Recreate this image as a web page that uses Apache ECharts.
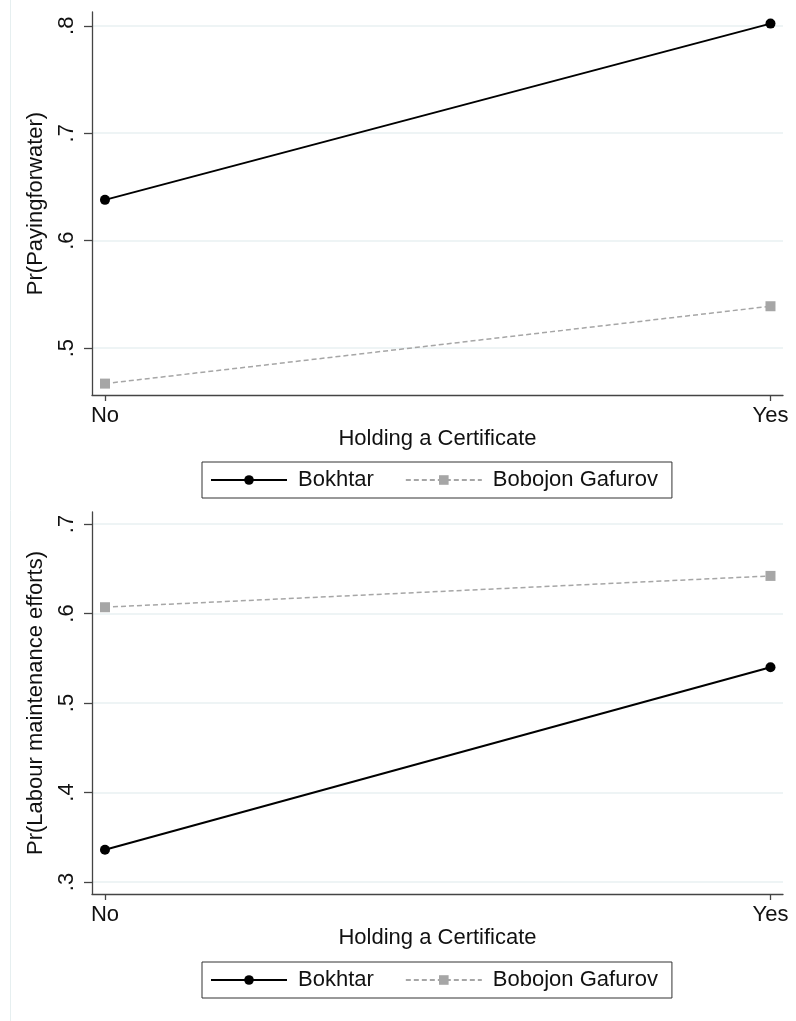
<!DOCTYPE html>
<html>
<head>
<meta charset="utf-8">
<style>
  html, body { margin: 0; padding: 0; background: #ffffff; }
  #chart { width: 796px; height: 1021px; }
</style>
<script src="https://cdn.jsdelivr.net/npm/echarts@6/dist/echarts.min.js"></script>
</head>
<body>
<div id="chart"></div>
<script>
// Predicted probabilities by certificate status, two districts
const categories = ['No', 'Yes'];
const seriesNames = ['Bokhtar', 'Bobojon Gafurov'];
const bokhtarPaying = [0.638, 0.802];
const gafurovPaying = [0.467, 0.539];
const bokhtarLabour = [0.336, 0.540];
const gafurovLabour = [0.607, 0.642];
const payingTicks = [0.5, 0.6, 0.7, 0.8];
const labourTicks = [0.3, 0.4, 0.5, 0.6, 0.7];
const xTitle = 'Holding a Certificate';
const payingTitle = 'Pr(Payingforwater)';
const labourTitle = 'Pr(Labour maintenance efforts)';

const FONT = "'Liberation Sans', Arial, sans-serif";
const TXT = '#111111';
const AXIS = '#444444';
const GRIDLINE = '#e8f0f2';

const toPoints = vals => categories.map((c, i) => [i, vals[i]]);
const fmtTick = v => v.toFixed(1).replace(/^0/, '');

function xAxisFor(gridIndex) {
  return {
    type: 'value', gridIndex: gridIndex,
    min: -0.0195, max: 1.0188,
    name: xTitle, nameLocation: 'middle', nameGap: 31,
    nameTextStyle: { fontFamily: FONT, fontSize: 22, color: TXT },
    axisLine: { show: true, onZero: false, lineStyle: { color: AXIS, width: 1.3 } },
    axisTick: { show: true, length: 6, customValues: [0, 1], lineStyle: { color: AXIS, width: 1.3 } },
    axisLabel: { customValues: [0, 1], margin: 10, fontFamily: FONT, fontSize: 22, color: TXT,
                 formatter: v => categories[Math.round(v)] },
    splitLine: { show: false }
  };
}

function yAxisFor(gridIndex, min, max, ticks, title) {
  return {
    type: 'value', gridIndex: gridIndex, min: min, max: max,
    name: title, nameLocation: 'middle', nameRotate: 90, nameGap: 45,
    nameTextStyle: { fontFamily: FONT, fontSize: 22, color: TXT },
    axisLine: { show: true, onZero: false, lineStyle: { color: AXIS, width: 1.3 } },
    axisTick: { show: true, length: 8, customValues: ticks, lineStyle: { color: AXIS, width: 1.3 } },
    axisLabel: { customValues: ticks, rotate: 90, margin: 14, fontFamily: FONT, fontSize: 22, color: TXT,
                 formatter: fmtTick },
    splitLine: { show: true, lineStyle: { color: GRIDLINE, width: 1.5 } }
  };
}

function solidSeries(xi, vals) {
  return {
    name: seriesNames[0], type: 'line', xAxisIndex: xi, yAxisIndex: xi,
    data: toPoints(vals), symbol: 'circle', symbolSize: 10,
    itemStyle: { color: '#000000' },
    lineStyle: { color: '#000000', width: 2 },
    emphasis: { disabled: true }, animation: false, z: 3
  };
}

function dashedSeries(xi, vals) {
  return {
    name: seriesNames[1], type: 'line', xAxisIndex: xi, yAxisIndex: xi,
    data: toPoints(vals), symbol: 'rect', symbolSize: 10,
    itemStyle: { color: '#a6a6a6' },
    lineStyle: { color: '#a6a6a6', width: 1.5, type: [5, 3] },
    emphasis: { disabled: true }, animation: false, z: 2
  };
}

function legendAt(top) {
  return {
    left: 202, top: top, orient: 'horizontal',
    data: seriesNames,
    itemWidth: 76, itemHeight: 12, itemGap: 31,
    padding: [7, 14, 7, 8],
    borderColor: '#333333', borderWidth: 1, borderRadius: 0,
    backgroundColor: '#ffffff',
    textStyle: { fontFamily: FONT, fontSize: 22, color: TXT, padding: [0, 0, 0, 6] },
    selectedMode: false
  };
}

const chart = echarts.init(document.getElementById('chart'), null, { renderer: 'canvas' });
chart.setOption({
  backgroundColor: '#ffffff',
  animation: false,
  graphic: [{
    type: 'line', shape: { x1: 10.5, y1: 0, x2: 10.5, y2: 1021 },
    style: { stroke: '#e6eff0', lineWidth: 1 }, silent: true
  }],
  grid: [
    { left: 92, right: 13, top: 12, height: 383, containLabel: false },
    { left: 92, right: 13, top: 512, height: 382, containLabel: false }
  ],
  xAxis: [xAxisFor(0), xAxisFor(1)],
  yAxis: [
    yAxisFor(0, 0.4564, 0.8128, payingTicks, payingTitle),
    yAxisFor(1, 0.2866, 0.7134, labourTicks, labourTitle)
  ],
  legend: [legendAt(462), legendAt(962)],
  series: [
    solidSeries(0, bokhtarPaying),
    dashedSeries(0, gafurovPaying),
    solidSeries(1, bokhtarLabour),
    dashedSeries(1, gafurovLabour)
  ]
});
</script>
</body>
</html>
